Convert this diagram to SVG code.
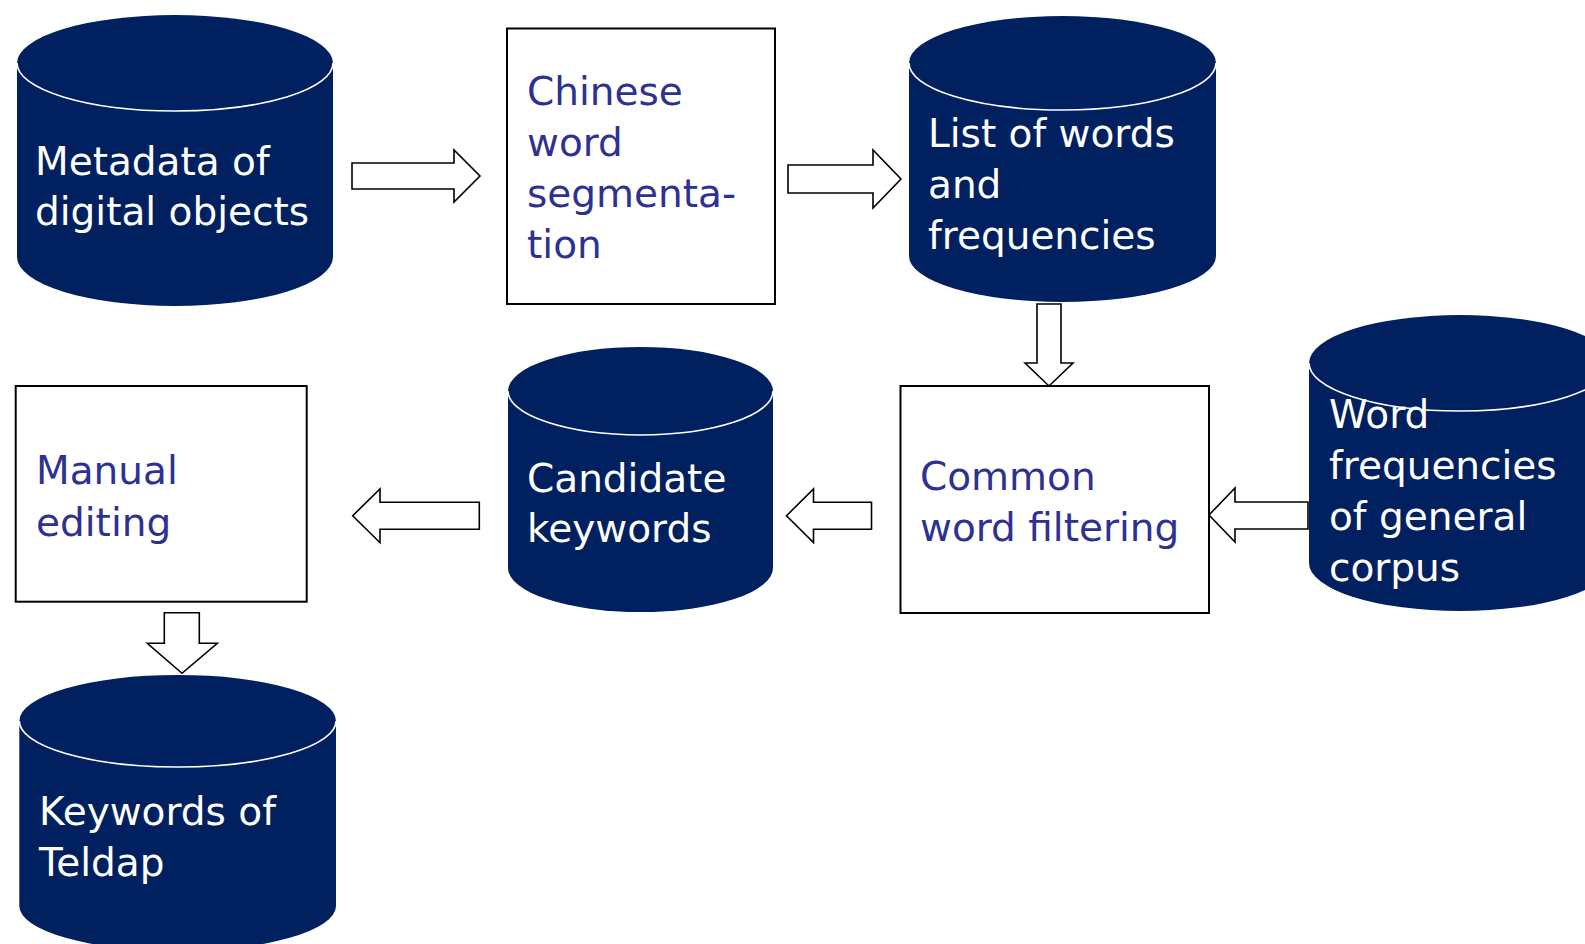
<svg xmlns="http://www.w3.org/2000/svg" width="1585" height="944" viewBox="0 0 1585 944">
<style>
.cyl{fill:#002060;stroke:none}
.rim{fill:none;stroke:#ffffff;stroke-width:1.6}
.box{fill:#ffffff;stroke:#000000;stroke-width:2}
.arr{fill:#ffffff;stroke:#000000;stroke-width:1.6;stroke-linejoin:miter}
text{font-family:"DejaVu Sans","Liberation Sans",sans-serif;font-size:39px}
.w{fill:#ffffff}
.b{fill:#2E3192}
</style>
<rect width="1585" height="944" fill="#ffffff"/>

<g id="connectors">
<path class="arr" d="M352,163 H454 V150 L480,176 L454,202 V189 H352 Z"/>
<path class="arr" d="M788,165 H873 V150 L901,179 L873,208 V193 H788 Z"/>
<path class="arr" d="M1037,304 V363 H1025 L1049,386 L1073,363 H1061 V304 Z"/>
<path class="arr" d="M1308,502 H1235 V488 L1209,515 L1235,542 V529 H1308 Z"/>
<path class="arr" d="M871.5,502.3 H813.5 V489 L786.5,515.7 L813.5,542.5 V529.3 H871.5 Z"/>
<path class="arr" d="M479.3,502.3 H380 V489 L352.7,515.7 L380,542.7 V529.3 H479.3 Z"/>
<path class="arr" d="M164.3,612.7 V643.3 H147.3 L182,673.3 L217.3,643.3 H199.3 V612.7 Z"/>
</g>

<g id="metadata">
<path class="cyl" d="M17,63 A158,48 0 0 1 333,63 L333,257 A158,49 0 0 1 17,257 Z"/>
<path class="rim" d="M17,63 A158,48 0 0 0 333,63"/>
<text class="w" x="35" y="175">Metadata of</text>
<text class="w" x="35" y="225">digital objects</text>
</g>

<g id="segmentation">
<rect class="box" x="507" y="28.5" width="268" height="275.5"/>
<text class="b" x="527" y="105">Chinese</text>
<text class="b" x="527" y="156">word</text>
<text class="b" x="527" y="207">segmenta-</text>
<text class="b" x="527" y="258">tion</text>
</g>

<g id="wordlist">
<path class="cyl" d="M909,63 A153.5,47 0 0 1 1216,63 L1216,256 A153.5,46 0 0 1 909,256 Z"/>
<path class="rim" d="M909,63 A153.5,47 0 0 0 1216,63"/>
<text class="w" x="928" y="147">List of words</text>
<text class="w" x="928" y="197.5">and</text>
<text class="w" x="928" y="248.5">frequencies</text>
</g>

<g id="filtering">
<rect class="box" x="900.5" y="386" width="308.5" height="227"/>
<text class="b" x="920" y="489.5">Common</text>
<text class="b" x="920" y="540.5">word filtering</text>
</g>

<g id="general-corpus">
<path class="cyl" d="M1309,363 A151,48 0 0 1 1611,363 L1611,563 A151,48 0 0 1 1309,563 Z"/>
<path class="rim" d="M1309,363 A151,48 0 0 0 1611,363"/>
<text class="w" x="1329" y="428">Word</text>
<text class="w" x="1329" y="479">frequencies</text>
<text class="w" x="1329" y="530">of general</text>
<text class="w" x="1329" y="581">corpus</text>
</g>

<g id="candidate">
<path class="cyl" d="M508,391 A132.5,44 0 0 1 773,391 L773,568 A132.5,44 0 0 1 508,568 Z"/>
<path class="rim" d="M508,391 A132.5,44 0 0 0 773,391"/>
<text class="w" x="527" y="491.5">Candidate</text>
<text class="w" x="527" y="541.5">keywords</text>
</g>

<g id="manual">
<rect class="box" x="15.7" y="386" width="291" height="215.7"/>
<text class="b" x="36" y="484.3">Manual</text>
<text class="b" x="36" y="535.7">editing</text>
</g>

<g id="keywords">
<path class="cyl" d="M19.3,721 A158.3,46 0 0 1 336,721 L336,906 A158.3,45 0 0 1 19.3,906 Z"/>
<path class="rim" d="M19.3,721 A158.3,46 0 0 0 336,721"/>
<text class="w" x="39" y="825">Keywords of</text>
<text class="w" x="39" y="876">Teldap</text>
</g>
</svg>
